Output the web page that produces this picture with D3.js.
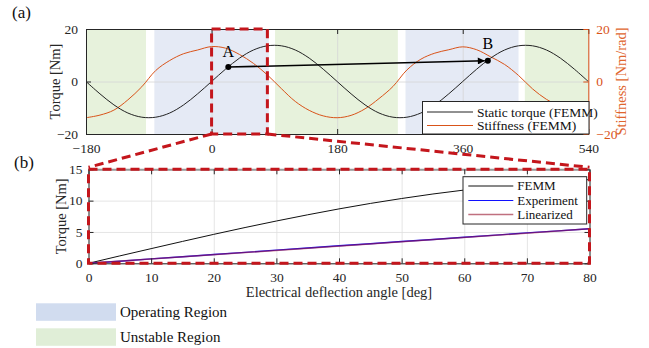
<!DOCTYPE html>
<html><head><meta charset="utf-8">
<script src="https://cdn.jsdelivr.net/npm/d3@7"></script>
<style>
body{margin:0;background:#fff;}
svg text{font-family:"Liberation Serif","Times New Roman",serif !important;}
</style></head><body>
<svg id="c" width="649" height="348" font-family="Liberation Serif, serif"></svg>
<script>
// ---------- data ----------
const topAngles = [-180,-160,-140,-120,-100,-80,-60,-40,-20,0,20,40,60,80,100,120,140,160,180,200,220,240,260,280,300,320,340,360,380,400,420,440,460,480,500,520,540];
const torqueFEMM = [0,-4.7,-8.9,-12.0,-13.6,-13.6,-12.0,-8.9,-4.7,0,4.7,8.9,12.0,13.6,13.6,12.0,8.9,4.7,0,-4.7,-8.9,-12.0,-13.6,-13.6,-12.0,-8.9,-4.7,0,4.7,8.9,12.0,13.6,13.6,12.0,8.9,4.7,0];
const stiffnessFEMM = [-13.8,-12.8,-10.9,-7.0,-2.0,4.2,8.0,10.6,12.0,13.3,12.7,10.3,6.9,2.5,-2.7,-7.6,-11.0,-13.1,-13.8,-12.9,-10.4,-6.5,-1.9,4.4,8.5,10.8,12.1,13.2,12.1,9.4,6.5,2.3,-2.8,-6.8,-9.6,-12.0,-13.6];
const operatingRegions = [[-82,82],[278,440]];
const unstableRegions = [[-180,-94],[91,267],[449,540]];
const topXTicks = [-180,0,180,360,540];
const topYTicks = [-20,0,20];
const pointA = [24,5.5];
const pointB = [396,7.9];
const zoomRange = [0,80];

const botAngles = [0,5,10,15,20,25,30,35,40,45,50,55,60,65,70,75,80];
const femmTorque = [0,1.18,2.34,3.49,4.62,5.71,6.75,7.74,8.68,9.55,10.34,11.06,11.69,12.24,12.69,13.04,13.35];
const expTorque = [0,0.33,0.7,1.04,1.4,1.74,2.1,2.44,2.8,3.12,3.48,3.8,4.15,4.5,4.85,5.18,5.52];
const linAngles = [0,80];
const linTorque = [0,5.5];
const botXTicks = [0,10,20,30,40,50,60,70,80];
const botYTicks = [0,5,10,15];

// ---------- styles ----------
const FONT = "Liberation Serif, Times New Roman, serif";
const axisCol = "#262626", orange = "#d95319", redDash = "#c4161c";
const blueFill = "#e5eaf5", greenFill = "#e7f2dc";
const svg = d3.select("#c");

// ---------- top panel ----------
const x1 = d3.scaleLinear().domain([-180,540]).range([86,588.3]);
const y1 = d3.scaleLinear().domain([-20,20]).range([134,29]);
const y1r = d3.scaleLinear().domain([-20,20]).range([134,29]);
const g1 = svg.append("g");

g1.selectAll("rect.op").data(operatingRegions).join("rect")
  .attr("x",d=>x1(d[0])).attr("width",d=>x1(d[1])-x1(d[0]))
  .attr("y",y1(20)).attr("height",y1(-20)-y1(20)).attr("fill",blueFill);
g1.selectAll("rect.un").data(unstableRegions).join("rect")
  .attr("x",d=>x1(d[0])).attr("width",d=>x1(d[1])-x1(d[0]))
  .attr("y",y1(20)).attr("height",y1(-20)-y1(20)).attr("fill",greenFill);

// grid
g1.append("g").call(d3.axisBottom(x1).tickValues(topXTicks).tickSize(-(y1(-20)-y1(20))).tickFormat(""))
  .attr("transform",`translate(0,${y1(-20)})`)
  .call(g=>g.select(".domain").remove())
  .call(g=>g.selectAll("line").attr("stroke","#d6d6d6").attr("stroke-width",0.8));
g1.append("g").call(d3.axisLeft(y1).tickValues(topYTicks).tickSize(-(x1(540)-x1(-180))).tickFormat(""))
  .attr("transform",`translate(${x1(-180)},0)`)
  .call(g=>g.select(".domain").remove())
  .call(g=>g.selectAll("line").attr("stroke","#d6d6d6").attr("stroke-width",0.8));

g1.append("path").attr("d",d3.line().x((d,i)=>x1(topAngles[i])).y(d=>y1r(d)).curve(d3.curveCatmullRom)(stiffnessFEMM))
  .attr("fill","none").attr("stroke",orange).attr("stroke-width",1);
g1.append("path").attr("d",d3.line().x((d,i)=>x1(topAngles[i])).y(d=>y1(d)).curve(d3.curveCatmullRom)(torqueFEMM))
  .attr("fill","none").attr("stroke","#222").attr("stroke-width",1);

// axes (box)
const tickStyle = (g,col)=>{g.attr("font-family",FONT);g.selectAll("text").attr("font-family",FONT).attr("font-size",13.5).attr("fill",col);g.selectAll("line").attr("stroke",col);g.select(".domain").attr("stroke",col);};
g1.append("g").attr("transform",`translate(0,${y1(-20)})`)
  .call(d3.axisBottom(x1).tickValues(topXTicks).tickSizeInner(-5).tickSizeOuter(0).tickPadding(9))
  .call(g=>tickStyle(g,axisCol));
g1.append("g").attr("transform",`translate(0,${y1(20)})`)
  .call(d3.axisTop(x1).tickValues(topXTicks).tickSizeInner(-5).tickSizeOuter(0).tickFormat(""))
  .call(g=>tickStyle(g,axisCol));
g1.append("g").attr("transform",`translate(${x1(-180)},0)`)
  .call(d3.axisLeft(y1).tickValues(topYTicks).tickSizeInner(-5).tickSizeOuter(0).tickPadding(8))
  .call(g=>tickStyle(g,axisCol));
g1.append("g").attr("transform",`translate(${x1(540)},0)`)
  .call(d3.axisRight(y1r).tickValues(topYTicks).tickSizeInner(-5).tickSizeOuter(0).tickPadding(8))
  .call(g=>tickStyle(g,orange));

const txt = (sel)=>sel.append("text").attr("font-family",FONT);
txt(g1).attr("transform",`translate(60,${(y1(20)+y1(-20))/2}) rotate(-90)`)
  .attr("text-anchor","middle").attr("font-size",14.5).attr("fill",axisCol).text("Torque [Nm]");
txt(g1).attr("transform",`translate(626,${(y1(20)+y1(-20))/2}) rotate(-90)`)
  .attr("text-anchor","middle").attr("font-size",14.5).attr("fill","#e0662e").text("Stiffness [Nm/rad]");

// arrow A -> B
svg.append("defs").append("marker").attr("id","arr").attr("viewBox","0 0 10 10")
  .attr("refX",10).attr("refY",5).attr("markerWidth",9).attr("markerHeight",7)
  .attr("markerUnits","userSpaceOnUse").attr("orient","auto")
  .append("path").attr("d","M0,0L10,5L0,10Z").attr("fill","#000");
const ax = x1(pointA[0]), ay = y1(pointA[1]), bx = x1(pointB[0]), by = y1(pointB[1]);
g1.append("line").attr("x1",ax).attr("y1",ay).attr("x2",bx-3).attr("y2",by+0.05)
  .attr("stroke","#000").attr("stroke-width",1.6).attr("marker-end","url(#arr)");
g1.selectAll("circle.pt").data([pointA,pointB]).join("circle")
  .attr("cx",d=>x1(d[0])).attr("cy",d=>y1(d[1])).attr("r",3).attr("fill","#000");
txt(g1).attr("x",ax).attr("y",ay-10).attr("text-anchor","middle").attr("font-size",16).text("A");
txt(g1).attr("x",bx).attr("y",by-12).attr("text-anchor","middle").attr("font-size",16).text("B");

// top legend
const lg1 = g1.append("g");
lg1.append("rect").attr("x",422.5).attr("y",101.5).attr("width",166.5).attr("height",32.5)
  .attr("fill","#fff").attr("stroke","#262626").attr("stroke-width",1);
[["Static torque (FEMM)","#222",112],["Stiffness (FEMM)",orange,125.5]].forEach(([t,c,yy])=>{
  lg1.append("line").attr("x1",427).attr("x2",473).attr("y1",yy).attr("y2",yy).attr("stroke",c).attr("stroke-width",1);
  txt(lg1).attr("x",477).attr("y",yy+4.5).attr("font-size",13.5).attr("fill","#111").text(t);
});

// ---------- bottom panel ----------
const x2 = d3.scaleLinear().domain([0,80]).range([88.5,589.5]);
const y2 = d3.scaleLinear().domain([0,15]).range([263.3,169.3]);
const g2 = svg.append("g");
g2.append("g").attr("transform",`translate(0,${y2(0)})`)
  .call(d3.axisBottom(x2).tickValues(botXTicks).tickSize(-(y2(0)-y2(15))).tickFormat(""))
  .call(g=>g.select(".domain").remove())
  .call(g=>g.selectAll("line").attr("stroke","#dedede").attr("stroke-width",0.8));
g2.append("g").attr("transform",`translate(${x2(0)},0)`)
  .call(d3.axisLeft(y2).tickValues(botYTicks).tickSize(-(x2(80)-x2(0))).tickFormat(""))
  .call(g=>g.select(".domain").remove())
  .call(g=>g.selectAll("line").attr("stroke","#dedede").attr("stroke-width",0.8));

g2.append("path").attr("d",d3.line().x((d,i)=>x2(botAngles[i])).y(d=>y2(d)).curve(d3.curveMonotoneX)(femmTorque))
  .attr("fill","none").attr("stroke","#111").attr("stroke-width",1);
g2.append("path").attr("d",d3.line().x((d,i)=>x2(botAngles[i])).y(d=>y2(d))(expTorque))
  .attr("fill","none").attr("stroke","#1010ff").attr("stroke-width",1.4);
g2.append("path").attr("d",d3.line().x((d,i)=>x2(linAngles[i])).y(d=>y2(d))(linTorque))
  .attr("fill","none").attr("stroke","#a2142f").attr("stroke-opacity",0.6).attr("stroke-width",1.5);

g2.append("g").attr("transform",`translate(0,${y2(0)})`)
  .call(d3.axisBottom(x2).tickValues(botXTicks).tickSizeInner(-5).tickSizeOuter(0).tickPadding(9))
  .call(g=>tickStyle(g,axisCol));
g2.append("g").attr("transform",`translate(0,${y2(15)})`)
  .call(d3.axisTop(x2).tickValues(botXTicks).tickSizeInner(-5).tickSizeOuter(0).tickFormat(""))
  .call(g=>tickStyle(g,axisCol)).call(g=>g.select(".domain").attr("stroke","#999").attr("stroke-width",2));
g2.append("g").attr("transform",`translate(${x2(0)},0)`)
  .call(d3.axisLeft(y2).tickValues(botYTicks).tickSizeInner(-5).tickSizeOuter(0).tickPadding(6))
  .call(g=>tickStyle(g,axisCol));
g2.append("g").attr("transform",`translate(${x2(80)},0)`)
  .call(d3.axisRight(y2).tickValues(botYTicks).tickSizeInner(-5).tickSizeOuter(0).tickFormat(""))
  .call(g=>tickStyle(g,axisCol));

txt(g2).attr("transform",`translate(66,${(y2(0)+y2(15))/2}) rotate(-90)`)
  .attr("text-anchor","middle").attr("font-size",14.5).attr("fill",axisCol).text("Torque [Nm]");
txt(g2).attr("x",(x2(0)+x2(80))/2).attr("y",297).attr("text-anchor","middle")
  .attr("font-size",14.5).attr("fill",axisCol).text("Electrical deflection angle [deg]");

// bottom legend
const lg2 = g2.append("g");
lg2.append("rect").attr("x",463).attr("y",176.7).attr("width",123.7).attr("height",47.3)
  .attr("fill","#fff").attr("stroke","#262626").attr("stroke-width",1);
[["FEMM","#111",1,186],["Experiment","#1010ff",1,200.5],["Linearized","#c0707f",1.5,214.5]].forEach(([t,c,w,yy])=>{
  lg2.append("line").attr("x1",468.3).attr("x2",513.3).attr("y1",yy).attr("y2",yy).attr("stroke",c).attr("stroke-width",w);
  txt(lg2).attr("x",517.3).attr("y",yy+4.2).attr("font-size",13).attr("fill","#111").text(t);
});

// ---------- zoom indicator (red dashed) ----------
const applyDash = s=>s.attr("stroke",redDash).attr("stroke-width",3).attr("stroke-dasharray","9,5").attr("fill","none");
applyDash(svg.append("rect").attr("x",x1(zoomRange[0])).attr("y",y1(20))
  .attr("width",x1(zoomRange[1])-x1(zoomRange[0])).attr("height",y1(-20)-y1(20)));
applyDash(svg.append("rect").attr("x",x2(0)).attr("y",y2(15))
  .attr("width",x2(80)-x2(0)).attr("height",y2(0)-y2(15)));
applyDash(svg.append("line").attr("x1",x1(zoomRange[0])).attr("y1",y1(-20)).attr("x2",x2(0)).attr("y2",y2(15)-2));
applyDash(svg.append("line").attr("x1",x1(zoomRange[1])).attr("y1",y1(-20)).attr("x2",x2(80)).attr("y2",y2(15)-2));

// panel labels
txt(svg).attr("x",12).attr("y",18).attr("font-size",17).attr("fill","#111").text("(a)");
txt(svg).attr("x",14).attr("y",168).attr("font-size",17).attr("fill","#111").text("(b)");

// region legend
const regLegend = [["Operating Region","#d1dcef",303.3],["Unstable Region","#e0eed7",328.3]];
regLegend.forEach(([t,c,yy])=>{
  svg.append("rect").attr("x",36).attr("y",yy).attr("width",80).attr("height",17.5).attr("fill",c);
  txt(svg).attr("x",120).attr("y",yy+14).attr("font-size",15).attr("fill","#111").text(t);
});
</script>
</body></html>
